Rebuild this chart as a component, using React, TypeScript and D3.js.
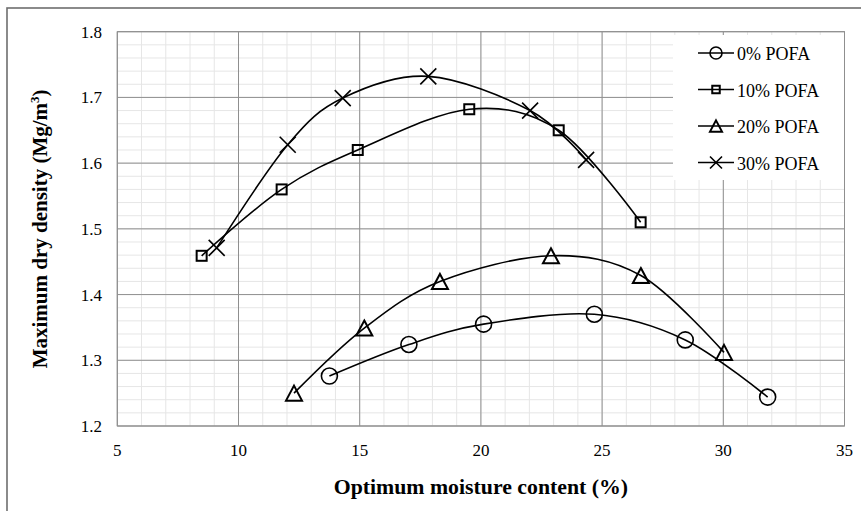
import React from "react";
import * as d3 from "d3";

const seriesNames = ["0% POFA", "10% POFA", "20% POFA", "30% POFA"];
const markerTypes = ["circle", "square", "triangle", "cross"];

const pofa0X = [13.75, 17.03, 20.11, 24.68, 28.43, 31.83];
const pofa0Y = [1.276, 1.324, 1.355, 1.37, 1.331, 1.244];

const pofa10X = [8.48, 11.78, 14.92, 19.52, 23.21, 26.59];
const pofa10Y = [1.459, 1.56, 1.62, 1.682, 1.65, 1.51];

const pofa20X = [12.29, 15.19, 18.31, 22.89, 26.6, 30.03];
const pofa20Y = [1.25, 1.349, 1.42, 1.459, 1.429, 1.312];

const pofa30X = [9.1, 12.03, 14.3, 17.83, 22.03, 24.34];
const pofa30Y = [1.471, 1.628, 1.699, 1.732, 1.68, 1.605];

const xTicks = [5, 10, 15, 20, 25, 30, 35];
const yTicks = [1.2, 1.3, 1.4, 1.5, 1.6, 1.7, 1.8];

const xTitle = "Optimum moisture content (%)";
const yTitle = "Maximum dry density (Mg/m";

const FONT = "'Liberation Serif', 'Times New Roman', serif";

function Marker({ type, x, y, s }: { type: string; x: number; y: number; s: number }) {
  const common = { fill: "none", stroke: "#000", strokeWidth: 1.6 };
  if (type === "circle") return <circle cx={x} cy={y} r={8 * s} {...common} />;
  if (type === "square") {
    const h = 5 * s;
    return <rect x={x - h} y={y - h} width={2 * h} height={2 * h} {...common} strokeWidth={2} />;
  }
  if (type === "triangle") {
    const w = 8 * s;
    const hh = 7.5 * s;
    return (
      <path
        d={`M${x},${y - hh}L${x + w},${y + hh}L${x - w},${y + hh}Z`}
        {...common}
        strokeWidth={2}
      />
    );
  }
  const c = 8 * s;
  return (
    <path
      d={`M${x - c},${y - c}L${x + c},${y + c}M${x - c},${y + c}L${x + c},${y - c}`}
      {...common}
    />
  );
}

export default function App() {
  const W = 861;
  const H = 511;
  const x = d3.scaleLinear().domain([5, 35]).range([117.3, 844.5]);
  const y = d3.scaleLinear().domain([1.2, 1.8]).range([426, 31.7]);

  const series = [
    { xs: pofa0X, ys: pofa0Y },
    { xs: pofa10X, ys: pofa10Y },
    { xs: pofa20X, ys: pofa20Y },
    { xs: pofa30X, ys: pofa30Y },
  ];

  const line = d3
    .line<[number, number]>()
    .x((d) => x(d[0]))
    .y((d) => y(d[1]))
    .curve(d3.curveCardinal.tension(0));

  const xMinor = d3.range(5, 35.001, 1);
  const yMinor = d3.range(0, 31).map((i) => 1.2 + i * 0.02);

  const [x0, x1] = x.range();
  const [yb, yt] = y.range();

  const legendY = [53, 89.5, 126, 162.5];

  return (
    <svg
      width={W}
      height={H}
      style={{ position: "absolute", left: 0, top: 0, display: "block", background: "#fff" }}
      fontFamily={FONT}
    >
      <rect x={0} y={0} width={W} height={H} fill="#fff" />
      <rect x={7} y={8} width={1000} height={1000} fill="none" stroke="#6e6e6e" strokeWidth={1.6} />

      {/* minor grid */}
      {xMinor.map((v, i) => (
        <line key={"xm" + i} x1={x(v)} x2={x(v)} y1={yt} y2={yb} stroke="#e6e6e6" strokeWidth={1} />
      ))}
      {yMinor.map((v, i) => (
        <line key={"ym" + i} x1={x0} x2={x1} y1={y(v)} y2={y(v)} stroke="#e6e6e6" strokeWidth={1} />
      ))}
      {/* major grid */}
      {xTicks.map((v, i) => (
        <line key={"xM" + i} x1={x(v)} x2={x(v)} y1={yt} y2={yb} stroke="#8f8f8f" strokeWidth={1} />
      ))}
      {yTicks.map((v, i) => (
        <line key={"yM" + i} x1={x0} x2={x1} y1={y(v)} y2={y(v)} stroke="#8f8f8f" strokeWidth={1} />
      ))}
      <rect x={x0} y={yt} width={x1 - x0} height={yb - yt} fill="none" stroke="#8f8f8f" strokeWidth={1} />

      {/* legend background */}
      <rect x={673} y={35} width={x1 - 673 - 0.5} height={145} fill="#fff" />

      {/* series */}
      {series.map((s, si) => {
        const pts: [number, number][] = s.xs.map((v, i) => [v, s.ys[i]]);
        return (
          <g key={"s" + si}>
            <path d={line(pts) || ""} fill="none" stroke="#000" strokeWidth={1.6} />
            {pts.map((p, i) => (
              <Marker key={i} type={markerTypes[si]} x={x(p[0])} y={y(p[1])} s={1} />
            ))}
          </g>
        );
      })}

      {/* axis tick labels */}
      {xTicks.map((v, i) => (
        <text key={"xl" + i} x={x(v)} y={456} textAnchor="middle" fontSize={17} fill="#000">
          {v}
        </text>
      ))}
      {yTicks.map((v, i) => (
        <text key={"yl" + i} x={102} y={y(v) + 6} textAnchor="end" fontSize={17} fill="#000">
          {v.toFixed(1)}
        </text>
      ))}

      {/* titles */}
      <text x={(x0 + x1) / 2} y={494} textAnchor="middle" fontSize={21.8} fontWeight="bold" fill="#000">
        {xTitle}
      </text>
      <text
        transform={`translate(47, ${(yt + yb) / 2}) rotate(-90)`}
        textAnchor="middle"
        fontSize={21}
        fontWeight="bold"
        fill="#000"
      >
        {yTitle}
        <tspan fontSize={13} dy={-8}>3</tspan>
        <tspan dy={8}>)</tspan>
      </text>

      {/* legend */}
      {seriesNames.map((name, i) => (
        <g key={"lg" + i}>
          <line x1={698} x2={734} y1={legendY[i]} y2={legendY[i]} stroke="#000" strokeWidth={1.6} />
          <Marker type={markerTypes[i]} x={716} y={legendY[i]} s={0.75} />
          <text x={737} y={legendY[i] + 7} fontSize={18} fill="#000">
            {name}
          </text>
        </g>
      ))}
    </svg>
  );
}
